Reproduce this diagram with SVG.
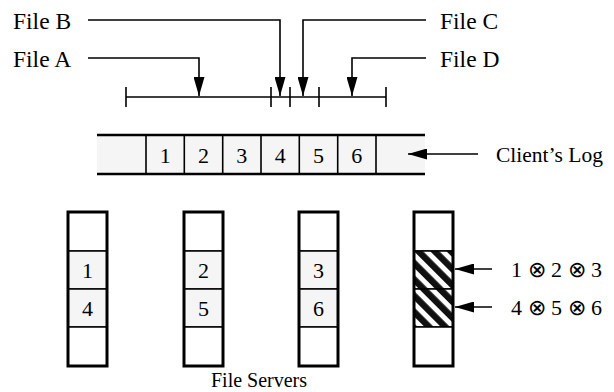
<svg xmlns="http://www.w3.org/2000/svg" width="614" height="392" viewBox="0 0 614 392">
<style>
text{font-family:"Liberation Serif","Times New Roman",serif;font-size:23.5px;fill:#000}
.c{text-anchor:middle}
.d{font-size:22px}
.lg{font-size:21.5px}
.cap{font-size:20px}
.ln{fill:none;stroke:#000;stroke-width:1.6}
.arr{fill:none;stroke:#000;stroke-width:1.6;marker-end:url(#ah)}
.cell{fill:#f5f5f5;stroke:#000;stroke-width:1.5}
.wcell{fill:#fff;stroke:#000;stroke-width:1.5}
.hcell{fill:url(#hatch);stroke:#000;stroke-width:1.5}
.frame{fill:none;stroke:#000;stroke-width:3}
</style>
<defs>
<marker id="ah" markerUnits="userSpaceOnUse" viewBox="0 0 19 11" refX="19" refY="5.5" markerWidth="19" markerHeight="11" orient="auto">
<path d="M0,0 L19,5.5 L0,11 Z" fill="#000"/>
</marker>
<pattern id="hatch" patternUnits="userSpaceOnUse" width="11.5" height="11.5" patternTransform="rotate(-45)">
<rect width="11.5" height="11.5" fill="#fff"/>
<rect width="6.5" height="11.5" fill="#111"/>
</pattern>
</defs>

<g id="timeline">
<path class="ln" d="M126,97 H386 M126,87 V107 M271,87 V107 M290,87 V107 M319,87 V107 M386,87 V107"/>
</g>

<g id="file-labels">
<text x="13" y="28.5">File B</text>
<text x="13" y="66.5">File A</text>
<text x="440" y="28.5">File C</text>
<text x="440" y="66.5">File D</text>
</g>

<g id="client-log">
<rect x="97" y="135" width="328" height="39" fill="#f5f5f5"/>
<path d="M97,135 H425 M97,174 H425" stroke="#000" stroke-width="2.6" fill="none"/>
<path class="ln" d="M146,135 V174 M184.3,135 V174 M222.7,135 V174 M261,135 V174 M299.3,135 V174 M337.7,135 V174 M376,135 V174"/>
<text class="c d" x="165.2" y="162.5">1</text>
<text class="c d" x="203.5" y="162.5">2</text>
<text class="c d" x="241.8" y="162.5">3</text>
<text class="c d" x="280.2" y="162.5">4</text>
<text class="c d" x="318.5" y="162.5">5</text>
<text class="c d" x="356.8" y="162.5">6</text>
<text class="lg" x="496" y="161.5">Client’s Log</text>
</g>

<g id="server1">
<rect class="wcell" x="68" y="212" width="39" height="39"/>
<rect class="cell" x="68" y="251" width="39" height="38"/>
<rect class="cell" x="68" y="289" width="39" height="38"/>
<rect class="wcell" x="68" y="327" width="39" height="39"/>
<rect class="frame" x="68" y="212" width="39" height="154"/>
<text class="c d" x="87.5" y="277.5">1</text>
<text class="c d" x="87.5" y="315.5">4</text>
</g>

<g id="server2">
<rect class="wcell" x="184" y="212" width="39" height="39"/>
<rect class="cell" x="184" y="251" width="39" height="38"/>
<rect class="cell" x="184" y="289" width="39" height="38"/>
<rect class="wcell" x="184" y="327" width="39" height="39"/>
<rect class="frame" x="184" y="212" width="39" height="154"/>
<text class="c d" x="203.5" y="277.5">2</text>
<text class="c d" x="203.5" y="315.5">5</text>
</g>

<g id="server3">
<rect class="wcell" x="299" y="212" width="39" height="39"/>
<rect class="cell" x="299" y="251" width="39" height="38"/>
<rect class="cell" x="299" y="289" width="39" height="38"/>
<rect class="wcell" x="299" y="327" width="39" height="39"/>
<rect class="frame" x="299" y="212" width="39" height="154"/>
<text class="c d" x="318.5" y="277.5">3</text>
<text class="c d" x="318.5" y="315.5">6</text>
</g>

<g id="server4">
<rect class="wcell" x="414" y="212" width="39" height="39"/>
<rect class="hcell" x="414" y="251" width="39" height="38"/>
<rect class="hcell" x="414" y="289" width="39" height="38"/>
<rect class="wcell" x="414" y="327" width="39" height="39"/>
<rect class="frame" x="414" y="212" width="39" height="154"/>
</g>

<g id="parity-labels">
<text class="d" x="511" y="277">1 ⊗ 2 ⊗ 3</text>
<text class="d" x="511" y="315">4 ⊗ 5 ⊗ 6</text>
</g>

<g id="caption">
<text class="c cap" x="259" y="387">File Servers</text>
</g>

<g id="connectors">
<path class="arr" d="M88,58 H199 V96"/>
<path class="arr" d="M88,20 H280 V96"/>
<path class="arr" d="M426,20 H303 V96"/>
<path class="arr" d="M426,58 H352 V96"/>
<path class="arr" d="M478,154 H408"/>
<path class="arr" d="M492,269 H455"/>
<path class="arr" d="M492,307 H455"/>
</g>
</svg>
